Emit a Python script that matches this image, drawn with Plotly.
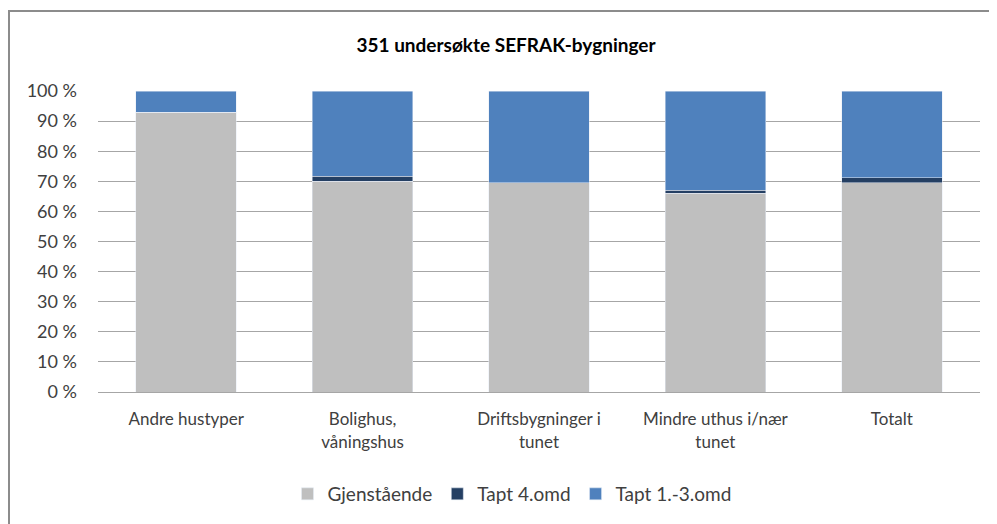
import plotly.graph_objects as go

categories = ["Andre hustyper", "Bolighus,<br>våningshus", "Driftsbygninger i<br>tunet",
              "Mindre uthus i/nær<br>tunet", "Totalt"]
gjenstaende = [92.9, 70.1, 69.5, 66.1, 69.5]
tapt_4 = [0.0, 1.6, 0.0, 0.9, 1.7]
tapt_1_3 = [7.1, 28.3, 30.5, 33.0, 28.8]
y_ticks = [0, 10, 20, 30, 40, 50, 60, 70, 80, 90, 100]
y_labels = [f"{v} %" for v in y_ticks]

# page body has an 8px margin; compensate so the picture lands where the reference is
OFF = 8
W, H = 997, 524
L, R, T, B = 98 - OFF, 17 + OFF, 91 - OFF, 132 + OFF
pw, ph = W - L - R, H - T - B

FONT = "Lato"
fig = go.Figure()
fig.add_trace(go.Bar(x=categories, y=gjenstaende, name="Gjenstående", marker_color="#BFBFBF"))
fig.add_trace(go.Bar(x=categories, y=tapt_4, name="Tapt 4.omd", marker_color="#243F63"))
fig.add_trace(go.Bar(x=categories, y=tapt_1_3, name="Tapt 1.-3.omd", marker_color="#4F81BD"))

fig.update_layout(
    width=W, height=H,
    barmode="stack", bargap=0.43,
    margin=dict(l=L, r=R, t=T, b=B, pad=0),
    paper_bgcolor="white", plot_bgcolor="white",
    font=dict(family=FONT, size=17, color="#404040"),
    title=dict(text="<b>351 undersøkte SEFRAK-bygninger</b>", x=(506 - OFF) / W, xref="container",
               xanchor="center", y=1 - (45 - OFF) / H, yref="container", yanchor="middle",
               font=dict(family=FONT, size=19, color="#000000")),
    legend=dict(orientation="h", x=(512 - OFF) / W, xanchor="center", xref="container",
                y=1 - (494 - OFF) / H, yref="container", yanchor="middle",
                font=dict(family=FONT, size=19, color="#404040"),
                itemwidth=30, traceorder="normal"),
    xaxis=dict(showgrid=False, ticks="", ticklabelstandoff=12, showline=True,
               linecolor="#A6A6A6", linewidth=1, tickfont=dict(size=17, color="#404040")),
    yaxis=dict(range=[0, 100], tickvals=y_ticks, ticktext=y_labels, showgrid=True,
               gridcolor="#A6A6A6", gridwidth=1, zeroline=False, ticks="",
               ticklabelstandoff=20, tickfont=dict(size=18, color="#404040")),
    shapes=[dict(type="rect", xref="paper", yref="paper",
                 x0=(1 - L) / pw, x1=(W + 10 - L) / pw,
                 y0=-(H + 10 - (T + ph)) / ph, y1=(T + ph - 11 + OFF) / ph,
                 line=dict(color="#8C8C8C", width=2), fillcolor="rgba(0,0,0,0)", layer="below")],
)
fig.write_html("out.html")
